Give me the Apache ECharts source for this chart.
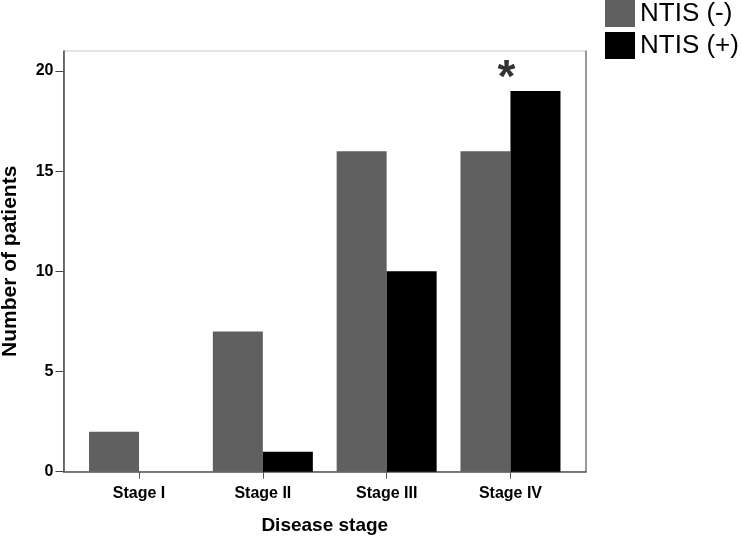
<!DOCTYPE html>
<html>
<head>
<meta charset="utf-8">
<script src="https://cdn.jsdelivr.net/npm/echarts@6/dist/echarts.min.js"></script>
<style>
html,body{margin:0;padding:0;background:#fff;}
#chart{width:742px;height:538px;}
</style>
</head>
<body>
<div id="chart"></div>
<script>
// ---- data ----
var categories = ['Stage I', 'Stage II', 'Stage III', 'Stage IV'];
var ntisNeg = [2, 7, 16, 16];
var ntisPos = [0, 1, 10, 19];
var seriesNames = ['NTIS (-)', 'NTIS (+)'];
var yTicks = [0, 5, 10, 15, 20];
var sigStage = 3;      // category index with significance mark
var sigLevel = 20;     // y position of the mark
var sigText = '*';

var FONT = '"Liberation Sans", Arial, Helvetica, sans-serif';
var catIdx = categories.map(function (c, i) { return i; });

var chart = echarts.init(document.getElementById('chart'), null, {renderer: 'canvas'});
chart.setOption({
  backgroundColor: '#fff',
  animation: false,
  grid: {
    left: 63.5, top: 51, right: 156, bottom: 66.3,
    outerBoundsMode: 'none', containLabel: false,
    show: true, borderColor: '#c8c8c8', borderWidth: 1, backgroundColor: 'transparent'
  },
  legend: {
    data: seriesNames,
    orient: 'vertical',
    left: 605, top: 0,
    padding: 0,
    itemWidth: 30, itemHeight: 27, itemGap: 5,
    icon: 'rect',
    textStyle: {fontFamily: FONT, fontSize: 26, color: '#000'}
  },
  xAxis: {
    type: 'value',
    min: -0.61, max: 3.61,
    name: 'Disease stage',
    nameLocation: 'middle',
    nameGap: 45,
    nameTextStyle: {fontFamily: FONT, fontSize: 19, fontWeight: 'bold', color: '#000'},
    axisLine: {show: true, onZero: false, lineStyle: {color: '#555', width: 1.5}},
    axisTick: {show: true, length: 7, customValues: catIdx, lineStyle: {color: '#555'}},
    axisLabel: {
      customValues: catIdx, margin: 14,
      fontFamily: FONT, fontSize: 16, fontWeight: 'bold', color: '#000',
      formatter: function (v) { return categories[Math.round(v)]; }
    },
    splitLine: {show: false}
  },
  yAxis: [{
    type: 'value',
    min: 0, max: 21,
    name: 'Number of patients',
    nameLocation: 'middle',
    nameGap: 43,
    nameTextStyle: {fontFamily: FONT, fontSize: 21, fontWeight: 'bold', color: '#000'},
    axisLine: {show: true, onZero: false, lineStyle: {color: '#444', width: 1.5}},
    axisTick: {show: true, length: 8, customValues: yTicks, lineStyle: {color: '#444'}},
    axisLabel: {
      customValues: yTicks, margin: 10,
      fontFamily: FONT, fontSize: 16, fontWeight: 'bold', color: '#000'
    },
    splitLine: {show: false}
  }, {
    type: 'value', position: 'right', min: 0, max: 21,
    axisLine: {show: true, onZero: false, lineStyle: {color: '#808080', width: 1.5}},
    axisTick: {show: false}, axisLabel: {show: false}, splitLine: {show: false}
  }],
  series: [{
    name: seriesNames[0],
    type: 'bar',
    data: ntisNeg.map(function (v, i) { return [i, v]; }),
    barWidth: 50, barGap: '0%',
    itemStyle: {color: '#606060'}
  }, {
    name: seriesNames[1],
    type: 'bar',
    data: ntisPos.map(function (v, i) { return [i, v]; }),
    barWidth: 50, barGap: '0%',
    itemStyle: {color: '#000'}
  }, {
    name: 'sig',
    type: 'scatter',
    data: [[sigStage, sigLevel]],
    symbolSize: 1,
    itemStyle: {color: 'transparent'},
    silent: true,
    label: {
      show: true, position: 'inside', formatter: sigText,
      fontFamily: FONT, fontSize: 46, fontWeight: 'bold', color: '#000',
      offset: [-4, 8]
    }
  }]
});
</script>
</body>
</html>
